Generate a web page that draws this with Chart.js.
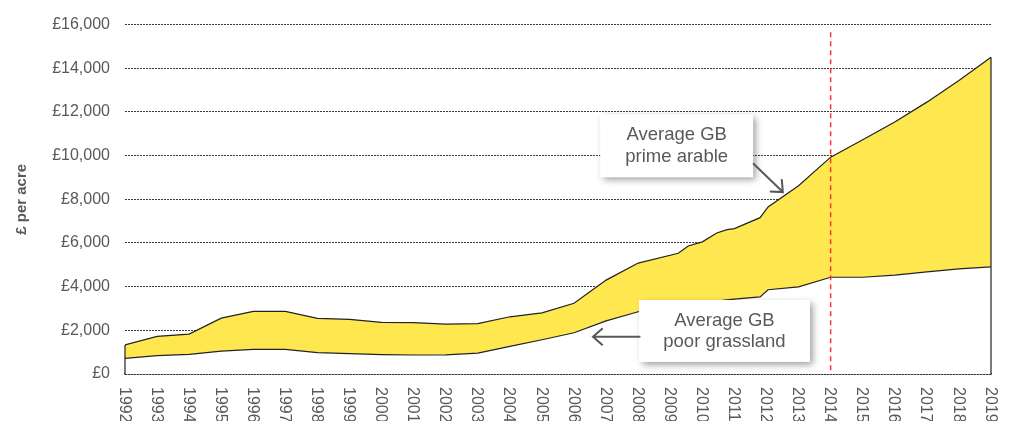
<!DOCTYPE html>
<html lang="en">
<head>
    <meta charset="UTF-8">
    <title>Average GB land value, £ per acre</title>
    <script src="https://cdn.jsdelivr.net/npm/chart.js"></script>
    <style>
        html, body { margin: 0; padding: 0; background: #fff; overflow: hidden; }
    </style>
</head>
<body>
    <canvas id="chart" width="1009" height="428"></canvas>

<script>
// ---------------- data ----------------

// x positions (years; half-year steps appear around 2009-2012)
const years = [1992, 1993, 1994, 1995, 1996, 1997, 1998, 1999, 2000, 2001,
               2002, 2003, 2004, 2005, 2006, 2007, 2008, 2009.25, 2009.56, 2010,
               2010.45, 2010.77, 2011, 2011.8, 2012.05, 2013, 2014, 2015, 2016,
               2017, 2018, 2019];

// Average GB prime arable, £ per acre
const primeArable = [1330, 1720, 1830, 2560, 2865, 2865, 2545, 2500, 2360, 2350,
                     2280, 2310, 2620, 2800, 3240, 4300, 5080, 5530, 5860, 6050,
                     6460, 6610, 6660, 7160, 7650, 8620, 9930, 10730, 11540,
                     12450, 13440, 14500];

// Average GB poor grassland, £ per acre
const poorGrassland = [720, 840, 900, 1050, 1130, 1130, 975, 930, 885, 870,
                       880, 960, 1265, 1570, 1890, 2430, 2850, 3100, 3150, 3250,
                       3340, 3390, 3430, 3530, 3860, 3990, 4430, 4430, 4530,
                       4680, 4815, 4910];

const yMax = 16000;
const yStep = 2000;
const markerYear = 2014;       // red dashed line
const markerTop = 15650;

// callouts, anchored in data space
const callouts = [
    { lines: ['Average GB', 'prime arable'], at: [2009.2, 10450], w: 153, h: 63,
      from: [2011.58, 9650], to: [2012.51, 8330] },
    { lines: ['Average GB', 'poor grassland'], at: [2010.69, 1970], w: 171, h: 62,
      from: [2008.07, 1705], to: [2006.59, 1705] }
];

// ---------------- plugins ----------------

const GREY = '#595959';
const FONT = '"Liberation Sans", Arial, sans-serif';

// closes the areas at both ends and draws the red marker line
const edges = {
    id: 'edges',
    afterDatasetsDraw(chart) {
        const c = chart.ctx, x = chart.scales.x, y = chart.scales.y;
        c.save();
        c.strokeStyle = '#222';
        c.lineWidth = 1.2;
        [0, years.length - 1].forEach(i => {
            const px = x.getPixelForValue(years[i]);
            c.beginPath();
            c.moveTo(px, y.getPixelForValue(primeArable[i]));
            c.lineTo(px, y.getPixelForValue(0));
            c.stroke();
        });
        const mx = x.getPixelForValue(markerYear);
        c.strokeStyle = '#ff3333';
        c.lineWidth = 1.5;
        c.setLineDash([5, 4]);
        c.beginPath();
        c.moveTo(mx, y.getPixelForValue(markerTop));
        c.lineTo(mx, y.getPixelForValue(0));
        c.stroke();
        c.restore();
    }
};

// year labels, turned clockwise so they read downwards
const yearLabels = {
    id: 'yearLabels',
    afterDraw(chart) {
        const c = chart.ctx, x = chart.scales.x;
        c.save();
        c.fillStyle = GREY;
        c.font = '16px ' + FONT;
        c.textAlign = 'left';
        c.textBaseline = 'middle';
        x.ticks.forEach(t => {
            c.save();
            c.translate(x.getPixelForValue(t.value) - 1, x.top + 13);
            c.rotate(Math.PI / 2);
            c.fillText(String(t.value), 0, 0);
            c.restore();
        });
        c.restore();
    }
};

const notes = {
    id: 'notes',
    afterDraw(chart) {
        const c = chart.ctx, x = chart.scales.x, y = chart.scales.y;
        callouts.forEach(n => {
            const cx = x.getPixelForValue(n.at[0]);
            const cy = y.getPixelForValue(n.at[1]);
            c.save();
            c.shadowColor = 'rgba(0,0,0,0.4)';
            c.shadowBlur = 7;
            c.shadowOffsetX = 3;
            c.shadowOffsetY = 3;
            c.fillStyle = '#fff';
            c.fillRect(cx - n.w / 2, cy - n.h / 2, n.w, n.h);
            c.restore();

            c.save();
            c.fillStyle = GREY;
            c.font = '18.5px ' + FONT;
            c.textAlign = 'center';
            c.textBaseline = 'middle';
            c.fillText(n.lines[0], cx, cy - 10.5);
            c.fillText(n.lines[1], cx, cy + 11);

            // arrow
            const x0 = x.getPixelForValue(n.from[0]), y0 = y.getPixelForValue(n.from[1]);
            const x1 = x.getPixelForValue(n.to[0]), y1 = y.getPixelForValue(n.to[1]);
            const a = Math.atan2(y1 - y0, x1 - x0);
            c.strokeStyle = GREY;
            c.lineWidth = 2;
            c.beginPath();
            c.moveTo(x0, y0);
            c.lineTo(x1, y1);
            c.moveTo(x1 - 13 * Math.cos(a - 0.72), y1 - 13 * Math.sin(a - 0.72));
            c.lineTo(x1, y1);
            c.lineTo(x1 - 13 * Math.cos(a + 0.72), y1 - 13 * Math.sin(a + 0.72));
            c.stroke();
            c.restore();
        });
    }
};

// ---------------- chart ----------------

const ctx = document.getElementById('chart');
new Chart(ctx, {
    type: 'line',
    data: {
        datasets: [{
            label: 'Average GB poor grassland',
            data: years.map((yr, i) => ({ x: yr, y: poorGrassland[i] })),
            borderColor: '#222',
            borderWidth: 1.2,
            backgroundColor: '#ffffff',
            fill: 'origin',
            pointRadius: 0,
            tension: 0
        }, {
            label: 'Average GB prime arable',
            data: years.map((yr, i) => ({ x: yr, y: primeArable[i] })),
            borderColor: '#222',
            borderWidth: 1.2,
            backgroundColor: '#ffe84f',
            fill: '-1',
            pointRadius: 0,
            tension: 0
        }]
    },
    options: {
        responsive: false,
        animation: false,
        layout: { padding: { top: 24, right: 18, left: 0, bottom: 0 } },
        plugins: {
            legend: { display: false },
            tooltip: { enabled: false }
        },
        scales: {
            x: {
                type: 'linear',
                min: years[0],
                max: years[years.length - 1],
                afterFit: s => { s.height = 54; s.paddingRight = 0; s.paddingLeft = 0; },
                grid: { display: false, drawTicks: false },
                border: { display: true, color: '#333', width: 1.6 },
                ticks: {
                    display: false,
                    stepSize: 1,
                    autoSkip: false
                }
            },
            y: {
                min: 0,
                max: yMax,
                afterFit: s => { s.width = 125; },
                grid: { color: '#3a3a3a', lineWidth: 1, drawTicks: false },
                border: { display: false, dash: [2, 1] },
                ticks: {
                    stepSize: yStep,
                    padding: 15,
                    color: GREY,
                    font: { size: 16, family: FONT },
                    callback: v => '£' + v.toLocaleString('en-GB')
                },
                title: {
                    display: true,
                    text: '£ per acre',
                    color: GREY,
                    padding: { top: 13, bottom: 0 },
                    font: { size: 15, weight: 'bold', family: FONT }
                }
            }
        }
    },
    plugins: [edges, yearLabels, notes]
});
</script>
</body>
</html>
